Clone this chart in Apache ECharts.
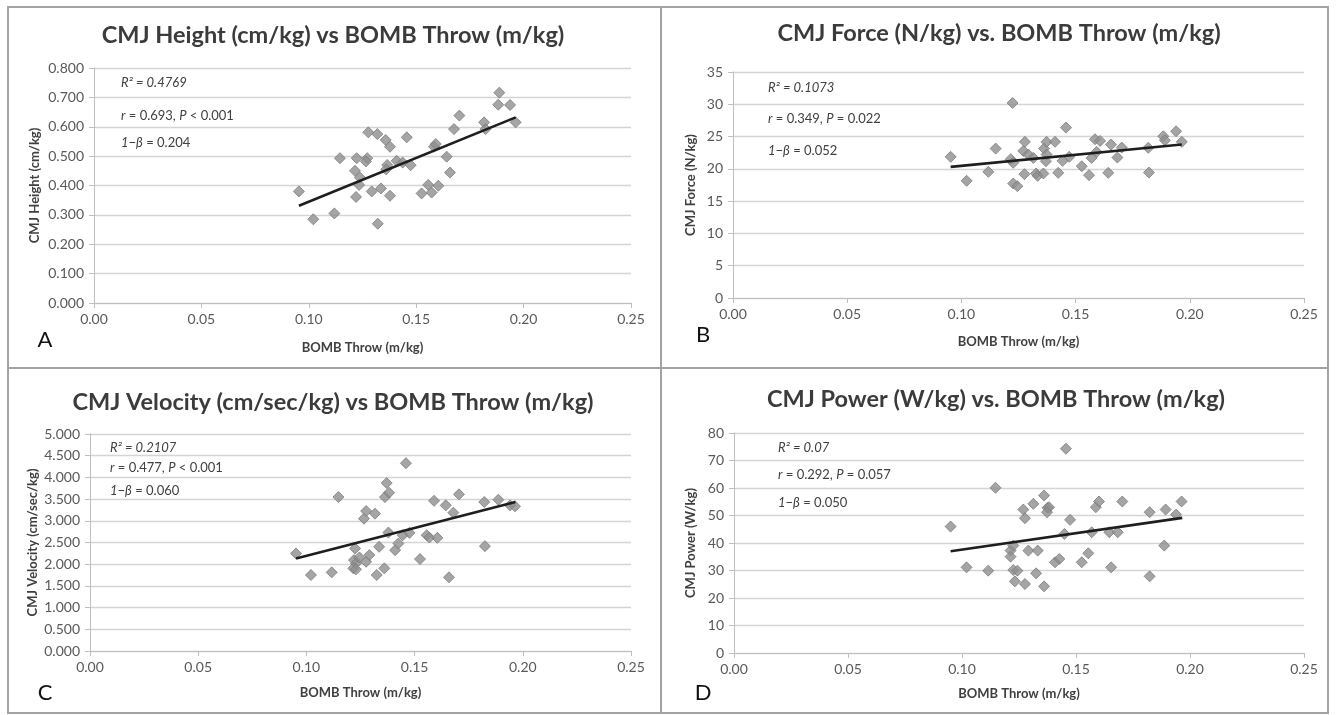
<!DOCTYPE html>
<html><head><meta charset="utf-8">
<script src="https://cdn.jsdelivr.net/npm/echarts@6/dist/echarts.min.js"></script>
<style>html,body{margin:0;padding:0;background:#fff}#c{width:1336px;height:715px}</style>
</head><body><div id="c"></div>
<script>
// ---- Data ----
const xTicks = ['0.00','0.05','0.10','0.15','0.20','0.25'];

const bombA = [0.0954,0.1021,0.1119,0.1145,0.1223,0.1215,0.1272,0.1266,0.1277,0.1319,0.1358,0.1378,0.1238,0.1234,0.1220,0.1293,0.1336,0.1321,0.1378,0.1365,0.1360,0.1409,0.1437,0.1456,0.1474,0.1525,0.1556,0.1572,0.1603,0.1583,0.1591,0.1642,0.1657,0.1676,0.1701,0.1816,0.1823,0.1882,0.1887,0.1937,0.1963];
const heightA = [0.380,0.285,0.305,0.493,0.493,0.450,0.493,0.482,0.581,0.575,0.555,0.532,0.427,0.402,0.361,0.380,0.390,0.270,0.365,0.470,0.455,0.484,0.478,0.564,0.469,0.373,0.402,0.376,0.399,0.532,0.541,0.498,0.444,0.592,0.638,0.615,0.592,0.675,0.716,0.674,0.615];
const trendA = [[0.0954,0.331],[0.1963,0.632]];

const bombB = [0.0953,0.1023,0.1118,0.1150,0.1224,0.1216,0.1227,0.1227,0.1245,0.1278,0.1271,0.1276,0.1293,0.1315,0.1327,0.1334,0.1359,0.1362,0.1373,0.1373,0.1370,0.1410,0.1424,0.1443,0.1458,0.1472,0.1527,0.1559,0.1570,0.1585,0.1607,0.1592,0.1643,0.1655,0.1683,0.1702,0.1818,0.1821,0.1884,0.1891,0.1940,0.1965];
const forceB = [21.86,18.14,19.54,23.14,30.21,21.5,20.93,17.73,17.32,24.18,22.78,19.18,22.22,21.70,19.28,18.92,19.28,23.14,24.18,22.22,21.19,24.18,19.38,21.24,26.39,21.86,20.41,19.02,21.70,24.59,24.33,22.63,19.38,23.76,21.75,23.30,23.25,19.43,25.05,24.43,25.82,24.18];
const trendB = [[0.0953,20.31],[0.1965,23.76]];

const bombC = [0.0952,0.1021,0.1117,0.1148,0.1225,0.1220,0.1229,0.1217,0.1229,0.1245,0.1276,0.1291,0.1266,0.1276,0.1317,0.1325,0.1336,0.1360,0.1363,0.1371,0.1382,0.1379,0.1410,0.1425,0.1445,0.1460,0.1476,0.1525,0.1556,0.1568,0.1605,0.1590,0.1644,0.1659,0.1679,0.1705,0.1825,0.1822,0.1887,0.1941,0.1964];
const velocityC = [2.248,1.751,1.812,3.547,2.362,2.095,2.018,1.904,1.881,2.156,2.057,2.21,3.050,3.226,3.165,1.751,2.401,1.904,3.547,3.869,3.647,2.729,2.324,2.477,2.668,4.327,2.722,2.118,2.668,2.615,2.607,3.46,3.356,1.697,3.188,3.609,2.416,3.433,3.486,3.356,3.333];
const trendC = [[0.0952,2.133],[0.1966,3.433]];

const bombD = [0.0950,0.1020,0.1115,0.1147,0.1213,0.1213,0.1225,0.1225,0.1243,0.1232,0.1269,0.1276,0.1276,0.1291,0.1313,0.1325,0.1332,0.1360,0.1360,0.1375,0.1382,0.1373,0.1408,0.1427,0.1449,0.1456,0.1474,0.1525,0.1554,0.1569,0.1587,0.1601,0.1646,0.1654,0.1683,0.1703,0.1823,0.1823,0.1887,0.1893,0.1939,0.1963];
const powerD = [45.98,31.15,29.94,60.07,37.23,35.04,39.05,30.18,29.94,26.05,52.17,49.02,25.08,37.23,54.24,28.97,37.23,57.28,24.23,52.78,53.0,51.2,32.98,34.19,43.30,74.29,48.41,32.98,36.26,43.91,53.03,55.09,43.91,31.15,43.91,55.09,51.20,27.87,39.05,52.17,50.35,55.09];
const trendD = [[0.0950,36.99],[0.1966,49.14]];

const titles = ['CMJ Height (cm/kg) vs BOMB Throw (m/kg)','CMJ Force (N/kg) vs. BOMB Throw (m/kg)','CMJ Velocity (cm/sec/kg) vs BOMB Throw (m/kg)','CMJ Power (W/kg) vs. BOMB Throw (m/kg)'];
const yNames = ['CMJ Height (cm/kg)','CMJ Force (N/kg)','CMJ Velocity (cm/sec/kg)','CMJ Power (W/kg)'];
const xName = 'BOMB Throw (m/kg)';
const panelLetters = ['A','B','C','D'];
const statsR2 = ['R² = 0.4769','R² = 0.1073','R² = 0.2107','R² = 0.07'];
const statsR = [['0.693','<','0.001'],['0.349','=','0.022'],['0.477','<','0.001'],['0.292','=','0.057']];
const statsPower = ['0.204','0.052','0.060','0.050'];
const yRanges = [[0,0.8,0.1,3],[0,35,5,0],[0,5,0.5,3],[0,80,10,0]];

// ---- Layout ----
const FONT = 'Lato, "Open Sans", sans-serif';
const grids = [
  {left:94, top:68, width:537, height:235},
  {left:733, top:72, width:571, height:226},
  {left:90, top:434, width:541, height:217},
  {left:734, top:433, width:570, height:220}
];
const titlePos = [[333,35],[999,33],[333,402],[996,399]];
const letterPos = [[45,340],[703,335],[45,693],[703,693]];
const statPos = [[121,[83,116,143]],[768,[88,119,151]],[110,[448,468,491]],[778,[448,475,503]]];
const xNameGap = [38,37,35,34];
const yNameGap = [53,36,51,37];

const pts = [[bombA,heightA],[bombB,forceB],[bombC,velocityC],[bombD,powerD]];
const trends = [trendA,trendB,trendC,trendD];

const xAxis = [], yAxis = [], series = [], graphic = [];
for (let i=0;i<4;i++){
  xAxis.push({gridIndex:i,type:'value',min:0,max:0.25,interval:0.05,
    name:xName,nameLocation:'middle',nameGap:xNameGap[i],
    nameTextStyle:{fontFamily:FONT,fontWeight:'bold',fontSize:13,color:'#404040'},
    axisLine:{show:true,onZero:false,lineStyle:{color:'#bfbfbf',width:1}},
    axisTick:{show:true,length:5,lineStyle:{color:'#bfbfbf'}},
    splitLine:{show:false},
    axisLabel:{fontFamily:FONT,fontSize:14,color:'#595959',margin:9,formatter:v=>v.toFixed(2)}});
  const r = yRanges[i];
  yAxis.push({gridIndex:i,type:'value',min:r[0],max:r[1],interval:r[2],
    name:yNames[i],nameLocation:'middle',nameGap:yNameGap[i],
    nameTextStyle:{fontFamily:FONT,fontWeight:'bold',fontSize:13,color:'#404040'},
    axisLine:{show:true,lineStyle:{color:'#bfbfbf',width:1}},
    axisTick:{show:true,length:5,lineStyle:{color:'#bfbfbf'}},
    splitLine:{show:true,lineStyle:{color:'#d4d4d4',width:1.3}},
    axisLabel:{fontFamily:FONT,fontSize:14,color:'#595959',margin:10,formatter:v=>v.toFixed(r[3])}});
  const [xs,ys] = pts[i];
  series.push({type:'scatter',xAxisIndex:i,yAxisIndex:i,symbol:'diamond',symbolSize:11,
    itemStyle:{color:'#8e8e8e',borderColor:'#7c7c7c',borderWidth:1},
    data:xs.map((x,k)=>[x,ys[k]]),z:3});
  series.push({type:'line',xAxisIndex:i,yAxisIndex:i,data:trends[i],symbol:'none',
    lineStyle:{color:'#1e1e1e',width:2.6},z:4,silent:true});
  // title
  graphic.push({type:'text',x:titlePos[i][0],y:titlePos[i][1],style:{text:titles[i],
    font:'bold 23.5px '+FONT,fill:'#3b3b3b',textAlign:'center',textVerticalAlign:'middle'}});
  graphic.push({type:'text',x:letterPos[i][0],y:letterPos[i][1],style:{text:panelLetters[i],
    font:'22px '+FONT,fill:'#111',textAlign:'center',textVerticalAlign:'middle'}});
  const sx = statPos[i][0], sy = statPos[i][1];
  graphic.push({type:'text',x:sx,y:sy[0],style:{text:statsR2[i],font:'italic 13px '+FONT,fill:'#404040',textVerticalAlign:'middle'}});
  graphic.push({type:'text',x:sx,y:sy[1],style:{text:'{i|r} = '+statsR[i][0]+', {i|P} '+statsR[i][1]+' '+statsR[i][2],
    font:'13px '+FONT,fill:'#404040',textVerticalAlign:'middle',
    rich:{i:{fontStyle:'italic',fontFamily:FONT,fontSize:13,fill:'#404040'}}}});
  graphic.push({type:'text',x:sx,y:sy[2],style:{text:'{i|1−β} = '+statsPower[i],
    font:'13px '+FONT,fill:'#404040',textVerticalAlign:'middle',
    rich:{i:{fontStyle:'italic',fontFamily:FONT,fontSize:13,fill:'#404040'}}}});
}
// frame
const frameStyle = {stroke:'#a3a3a3',lineWidth:2,fill:null};
graphic.push({type:'rect',shape:{x:8,y:7,width:1320,height:706},style:frameStyle,silent:true});
graphic.push({type:'line',shape:{x1:661,y1:7,x2:661,y2:713},style:{stroke:'#a3a3a3',lineWidth:2},silent:true});
graphic.push({type:'line',shape:{x1:8,y1:368,x2:1328,y2:368},style:{stroke:'#a3a3a3',lineWidth:2},silent:true});

const chart = echarts.init(document.getElementById('c'),null,{renderer:'canvas'});
chart.setOption({animation:false,backgroundColor:'#fff',grid:grids.map(g=>Object.assign({containLabel:false},g)),
  xAxis, yAxis, series, graphic});
</script></body></html>
